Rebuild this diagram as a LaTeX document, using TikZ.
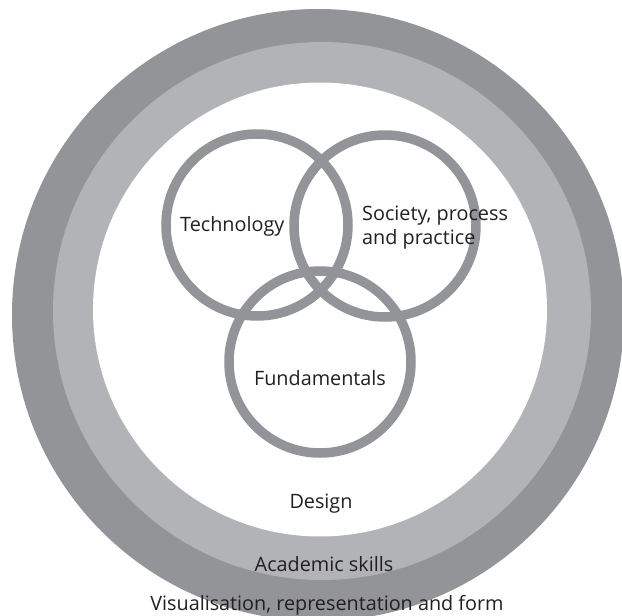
\documentclass[tikz,border=0pt]{standalone}
\usepackage{fontspec}
\setmainfont{Open Sans}
\definecolor{darkring}{RGB}{147,148,152}
\definecolor{lightring}{RGB}{178,179,183}
\definecolor{txt}{RGB}{35,31,32}
\tikzset{
  ring/.style={circle, inner sep=0pt, minimum size=#1},
  venn/.style={circle, draw=darkring, line width=9.5pt, inner sep=0pt, minimum size=182pt},
  lbl/.style={text=txt, inner sep=0pt, font=\fontsize{19.8}{24}\selectfont}
}
\begin{document}
\begin{tikzpicture}[x=1pt,y=-1pt]
\useasboundingbox (0,0) rectangle (622,616);
\clip (0,0) rectangle (622,616);
\node[ring=612pt, fill=darkring] (outer) at (318,315) {};
\node[ring=538pt, fill=lightring] (middle) at (322,311) {};
\node[ring=454pt, fill=white] (inner) at (320,309.5) {};
\node[venn] (tech) at (257,225) {};
\node[venn] (soc) at (385,226) {};
\node[venn] (fund) at (320,362) {};
\node[lbl, anchor=base west] (techl) at (180,231) {Technology};
\node[lbl, anchor=base west] (socl1) at (362,220) {Society, process};
\node[lbl, anchor=base west] (socl2) at (362,244) {and practice};
\node[lbl, anchor=base] (fundl) at (320,385) {Fundamentals};
\node[lbl, anchor=base] (design) at (321,508) {Design};
\node[lbl, anchor=base] (acad) at (324,571) {Academic skills};
\node[lbl, anchor=base] (vis) at (327,610) {Visualisation, representation and form};
\end{tikzpicture}
\end{document}
